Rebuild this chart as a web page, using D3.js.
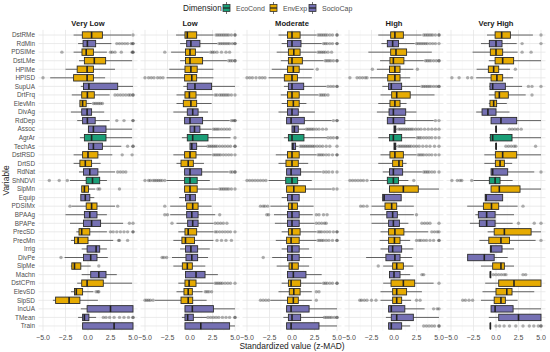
<!DOCTYPE html>
<html>
<head>
<meta charset="utf-8">
<script src="https://cdn.jsdelivr.net/npm/d3@7"></script>
<style>
  body { margin: 0; background: #fff; }
  svg { font-family: "Liberation Sans", Arial, sans-serif; }
</style>
</head>
<body>
<svg id="chart" width="550" height="352"></svg>
<script>
// variables, top to bottom
const variables = ["DstRMe","RdMin","PDSIMe","DstLMe","HPIMe","HPISD","SupUA","DrtFrq","ElevMn","DivAg",
  "RdDep","Assoc","AgrAr","TechAs","DstRSD","DrtSD","RdNat","ShNDVI","SlpMn","Equip",
  "PDSIMx","BPAAg","BPAPe","PrecSD","PrecMn","Irrig","DivPe","SlpMe","Machn","DstCPm",
  "ElevSD","SlpSD","IncUA","TMean","Train"];
const dimension = ["EnvExp","SocioCap","EnvExp","EnvExp","EnvExp","EnvExp","SocioCap","EnvExp","EnvExp","SocioCap",
  "SocioCap","SocioCap","EcoCond","SocioCap","EnvExp","EnvExp","SocioCap","EcoCond","EnvExp","SocioCap",
  "EnvExp","SocioCap","SocioCap","EnvExp","EnvExp","SocioCap","SocioCap","EnvExp","SocioCap","EnvExp",
  "EnvExp","EnvExp","SocioCap","SocioCap","SocioCap"];
const dimensions = ["EcoCond","EnvExp","SocioCap"];
const panels = ["Very Low","Low","Moderate","High","Very High"];
const xTicks = [-5, -2.5, 0, 2.5, 5];

// [lower whisker, q1, median, q3, upper whisker] per variable
const veryLow = [[-1.6,-0.63,0.4,1.6,4.8],[-1.1,-0.55,-0.07,0.85,2.6],[-1.6,-0.67,-0.2,0.6,2.1],[-1.0,-0.4,0.7,1.96,4.9],[-2.5,-1.2,-0.1,0.6,3.0],
  [-4.2,-1.6,-0.1,0.6,1.9],[-0.8,-0.5,0.1,3.3,5],[-1.8,-0.7,-0.07,0.7,2.4],[-0.9,-0.9,-0.6,-0.2,0.4],[-1.9,-0.7,-0.1,0.4,1.8],
  [-1.2,-0.6,-0.07,0.8,2.4],[0.05,0.05,0.6,2.0,4.9],[-0.9,-0.4,0.4,2.0,4.9],[0.05,0.05,0.6,1.6,3.7],[-1.6,-0.6,0,1.1,2.7],
  [-1.6,-0.9,-0.3,0.4,1.4],[-1.0,-0.5,0.2,1.1,3.0],[-2.0,-0.2,0.5,1.3,2.1],[-0.7,-0.7,-0.4,0.05,0.8],[-0.8,-0.8,-0.3,0.2,0.7],
  [-1.8,-0.2,0.4,1.0,3.0],[-2.5,-0.4,0.2,1.0,2.1],[-2.0,-0.5,0.4,1.4,3.9],[-1.3,-1.0,-0.7,0.2,2.1],[-1.9,-1.5,-1.1,0.0,2.8],
  [-0.7,-0.1,0.9,1.3,2.1],[-2.6,-0.5,0.3,1.0,2.2],[-1.9,-1.8,-1.5,-0.8,0.3],[-0.7,0.3,1.2,2.0,3.2],[-1.2,-0.7,-0.1,1.7,4.9],
  [-1.9,-1.5,-1.3,-0.6,0.6],[-3.9,-3.6,-2.1,-0.9,1.1],[-0.8,-0.1,2.5,5,5],[-1.1,-0.6,-0.4,0.1,0.9],[-0.6,-0.6,2.9,5,5]];
const veryLowOut = [[5],[3.2,3.5,3.8,4.1,4.4,4.8,5,5],[-2.9,2.5,2.7,3.0,3.7,4.9,5,5],[],[],
  [-5],[],[3.0,3.3,3.6,3.9,4.2,4.5,4.7,5,5],[0.6,0.8,1.0,1.2,1.4,1.6],[],
  [3.2,4.0,5,5],[],[],[4.4,5,5],[3.8,4.9],
  [],[3.3,3.6,3.9,4.2],[-4.3,-3.2,-2.3],[1.1,1.3,3.5],[],
  [-2.0,3.3],[],[4.6,5],[2.5,2.8,3.2,3.6,4.0,4.4,5,5],[3.4,3.5,4.4],
  [],[-3.0],[1.2],[],[],
  [0.9,1.1,1.2],[],[],[1.7,2.0,2.4,2.9,3.5,4.0,4.5,5,5],[]];

const low = [[-1.55,-0.56,-0.3,0.74,2.6],[-1.1,-0.37,0.1,1.1,3.0],[-2.1,-0.5,0,0.6,2.1],[-1.1,-0.5,0,1.4,4.1],[-2.3,-0.56,0.1,0.8,2.6],
  [-2.6,-0.6,0.2,0.74,2.6],[-0.74,-0.3,0.55,2.4,5],[-1.5,-0.56,-0.07,0.67,2.6],[-1.5,-0.74,0.1,0.74,2.4],[-1.85,-0.3,0.3,0.9,2.0],
  [-0.6,-0.6,0,1.4,4.4],[0,0,0.5,1.1,2.4],[-0.9,-0.3,0.3,2.0,4.5],[0,0,0.2,0.74,1.85],[-1.85,-0.6,0,0.67,2.4],
  [-1.5,-1.0,-0.2,0.37,1.55],[-0.6,-0.6,0,1.3,4.3],[-2.6,-0.6,0,0.8,2.2],[-0.6,-0.6,0,0.8,3.1],[-1.2,-0.5,0,0.6,0.6],
  [-2.2,-0.37,0.3,0.9,2.4],[-2.2,-0.37,0.2,0.9,2.8],[-1.5,-0.26,0.3,0.9,2.6],[-1.3,-0.56,-0.2,0.74,2.6],[-1.85,-0.9,-0.5,0.5,2.6],
  [-1.1,-0.5,0.1,0.85,2.2],[-2.0,-0.45,0.2,0.85,2.0],[-1.85,-0.85,-0.3,0.26,1.7],[-0.5,-0.5,0.67,1.67,3.1],[-1.3,-0.56,-0.1,0.67,2.6],
  [-1.5,-0.67,-0.2,0.26,1.4],[-3.9,-1.0,-0.2,0.3,1.85],[-0.56,-0.56,0.26,2.6,5],[-0.9,-0.56,-0.26,0.37,1.85],[-0.56,-0.56,1.2,4.4,5]];
const lowOut = [[2.9,3.1,3.3,3.5,3.7,3.9,4.1,4.3,4.6,5,5],[3.2,3.4,3.6,3.8,4.0,4.2,4.4,4.7,5,5],[-2.8,2.3,2.5,2.7,3.0,3.5,4.0,4.4],[4.3,4.5,4.7,5,5],[],
  [-5,-4.6,-4.3,-4.0,-3.6,-3.3,-3.0],[],[2.8,3.0,3.3,3.5,3.7,3.9,4.1,4.3,4.6,5],[],[],
  [4.6,4.8,5,5],[2.6,2.8,3.0,3.2,3.5,3.8,4.1,4.4],[5],[2.0,2.2,2.4,2.6,2.8,3.0,3.3,3.6,3.9,4.2,4.5,5,5],[2.6,2.8,3.0,3.2,3.4,3.7,4.0,4.3,4.6,5],
  [],[4.5,4.7,5,5],[-5,-4.6,-4.4,-4.1,-3.9,-3.7,-3.5,-3.3,-3.1,-2.8],[3.3,3.5,3.7,3.9,4.1,4.3,4.6,5],[],
  [-2.8],[-2.8,-2.5,3.3],[-2.0,2.8,3.1,3.4,3.7,4.1],[2.8,3.0,3.3,3.6,3.9,4.2,4.5,5],[3.0,3.5,4.0,4.6],
  [],[-3.1,-2.9,-2.6],[],[],[2.8,3.0,3.2,3.4,3.6,3.9,4.2,4.5,5],
  [1.7,1.9,2.1,2.4],[-5,-4.8,-4.6,-4.4,-4.1],[],[2.0,2.3,2.6,2.9,3.2,3.6,4.0,4.4,5,5],[]];

const moderate = [[-1.5,-0.5,0,0.9,2.7],[-1.15,-0.5,0,1.0,3.3],[-1.7,-0.4,0.2,0.9,2.7],[-1.25,-0.4,0,1.15,3.5],[-2.25,-0.5,0.15,0.8,2.4],
  [-2.6,-0.85,0,0.6,2.2],[-0.9,-0.4,0,1.3,3.8],[-1.25,-0.5,0,0.8,2.9],[-1.15,-0.5,0.15,0.8,1.6],[-1.5,-0.5,0,0.7,2.55],
  [-0.6,-0.6,-0.1,1.37,4.4],[0,0,0.26,0.7,1.45],[-0.9,-0.4,0,1.33,3.85],[0,0,0.1,0.4,0.7],[-1.8,-0.5,0,0.8,2.7],
  [-1.5,-0.67,0,0.7,1.8],[-0.6,-0.6,-0.1,0.96,3.3],[-2.6,-0.7,0,0.63,2.2],[-0.6,-0.6,0.2,1.5,4.4],[-1.15,-0.5,0,0.8,0.8],
  [-2.4,-0.4,0,0.6,2.4],[-2.0,-0.5,0,0.8,2.3],[-1.9,-0.5,0,0.8,2.5],[-1.15,-0.4,0,0.9,2.7],[-1.8,-0.6,-0.1,0.8,2.7],
  [-1.15,-0.5,0,0.8,1.9],[-2.2,-0.5,0,0.8,2.2],[-1.7,-0.33,0,0.7,1.9],[-0.5,-0.5,0.15,1.55,3.3],[-1.15,-0.4,-0.1,0.96,3.3],
  [-1.5,-0.3,0.2,0.9,2.2],[-2.4,-0.5,0.15,0.7,2.2],[-0.6,-0.6,-0.1,1.9,5],[-0.96,-0.4,0,0.96,3.5],[-0.6,-0.6,-0.1,3.0,5]];
const moderateOut = [[2.9,3.1,3.3,3.5,3.7,3.9,4.2,4.5,5,5],[3.5,3.7,3.9,4.2,4.5,5,5],[2.9,3.1,3.3,3.5,3.7,4.0,4.4],[3.7,3.9,4.1,4.3,4.6,5,5],[2.8],
  [-5,-4.7,-4.4,-4.0,-3.6,-3.3,-3.0],[4.0,4.3,4.6,5,5],[3.1,3.3,3.5,3.7,4.0],[],[],
  [4.6,5,5],[1.6,1.8,2.0,2.2,2.4,2.7,3.0,3.4,3.8],[4.0,4.3,4.6,5,5],[0.9,1.1,1.3,1.5,1.7,1.9,2.1,2.3,2.5,2.8,3.1,3.4,3.8,4.2,5],[2.9,3.1,3.3,3.5,3.8,4.1,4.5,5,5],
  [],[3.5,3.8,4.1,4.5,5],[-5,-4.7,-4.4,-4.1,-3.8,-3.5,-3.2,-2.9],[4.6,5],[],
  [-3.5,-3.2,-3.0,-2.7],[-2.8,-2.6,2.7,3.0,3.5,3.9],[2.7,3.0,3.3,3.6,3.8],[2.9,3.1,3.3,3.6,3.9,4.2,4.6,5,5],[2.9,3.1,3.3,3.5,3.8,4.1,4.5,5,5],
  [],[-3.2],[],[],[3.5,3.7,3.9,4.2,4.5,5,5],
  [2.7,3.0],[-3.5,-3.2,-2.9,-2.6,2.7],[],[3.6,3.8,4.0,4.2,4.4,4.7,5,5],[]];

const high = [[-1.75,-0.37,0.1,1.04,3.07],[-1.4,-0.74,-0.15,0.5,2.3],[-2.85,-0.37,0.22,1.4,4.2],[-1.55,-0.45,-0.07,1.1,3.3],[-1.9,-0.5,0.1,0.67,2.15],
  [-2.65,-0.7,0.1,0.67,1.8],[-1.3,-0.6,-0.3,0.85,2.9],[-1.5,-0.26,0.3,1.8,4.5],[-1.75,-0.45,0.1,0.67,1.4],[-1.9,-0.55,-0.07,1.3,2.5],
  [-0.74,-0.74,-0.07,1.2,4.4],[0,0,0.1,0.2,0.3],[-1.75,-0.5,-0.07,0.85,2.4],[0,0,0.1,0.2,0.3],[-1.5,-0.45,0.1,1.04,2.5],
  [-1.75,-0.15,0.55,0.96,1.4],[-1.25,-0.5,-0.07,0.96,3.1],[-2.65,-0.74,-0.07,0.5,1.6],[-0.5,-0.5,1.04,2.7,5],[-1.26,-1.26,-1.1,0.8,0.8],
  [-2.5,-1.0,-0.26,0.3,2.2],[-2.65,-0.8,-0.15,0.37,2.2],[-2.5,-0.6,-0.07,0.6,1.6],[-1.5,-0.6,0.1,1.1,3.8],[-1.6,-0.6,0.05,0.67,1.8],
  [-1.5,-0.6,-0.15,0.85,2.15],[-3.1,-0.9,0.1,0.67,2.0],[-1.2,-0.15,0.3,1.04,2.15],[-0.5,-0.5,0,0.67,1.8],[-1.2,-0.33,1.04,2.3,4.4],
  [-1.5,-0.15,0.3,1.4,3.1],[-1.5,-0.15,0.3,0.85,1.9],[-0.6,-0.6,-0.3,1.2,3.4],[-0.9,-0.3,0.3,2.15,5],[-0.6,-0.6,-0.3,0.85,1.8]];
const highOut = [[3.3,3.5,3.7,3.9,4.1,4.3,4.6,5,5],[2.5,2.7,2.9,3.1,3.3,3.5,3.7,4.0,4.3,4.6,5],[],[3.5,3.7,3.9,4.1,4.4,4.7,5,5],[-2.4,2.6],
  [-4.9,-4.1,-3.8,-3.5,-3.2,-3.0],[3.1,3.3,3.5,3.7,3.9,4.1,4.4,4.7,5,5],[],[],[],
  [4.6,5],[0.5,0.7,0.9,1.1,1.3,1.5,1.7,1.9,2.1,2.4,2.7,3.0,3.4,3.8,4.2,4.6,5],[2.6,2.8,3.0,3.3,3.6,3.9,4.2,4.6,5],[0.5,0.7,0.9,1.1,1.3,1.5,1.7,1.9,2.2,2.5,2.8,3.2,3.6,4.0,4.5,5],[2.7,2.9,3.1,3.3,3.6,3.9,4.2,4.6,5],
  [],[3.3,3.5,3.7,3.9,4.2,4.5,5],[-4.9,-4.6,-4.3,-4.0,-3.7,-3.4,-3.0,2.2],[],[],
  [-3.7,-3.4,-3.0],[2.5],[3.1,3.4,3.7,4.0,5],[4.2,4.5,4.8,5],[2.5,2.8,3.0,3.3,3.6,4.0,4.4,5,5],
  [],[],[-1.75],[3.1,3.3],[5],
  [],[-3.8,-3.6,-3.3,-3.0,-2.5,-2.0,2.5,2.9],[4.4,4.8,5],[],[3.3,3.6,3.9,4.2,4.5,5,5]];

const veryHigh = [[-1.0,-0.1,0.63,1.6,4.1],[-1.67,-0.74,0,0.67,2.3],[-2.6,-0.63,0,0.74,2.4],[-0.8,-0.1,0.74,1.96,5],[-2.15,-0.85,-0.26,0.3,1.55],
  [-2.2,-0.55,0.1,0.74,1.9],[-0.74,-0.67,-0.37,1.04,2.9],[-0.8,-0.1,0.37,1.37,3.3],[-0.8,-0.67,-0.26,0.07,1.2],[-2.2,-1.55,-0.9,0,1.5],
  [-0.55,-0.55,0.55,2.3,5],[0,0,0,0.05,0.05],[-0.74,-0.63,-0.37,1.78,5],[0,0,0,0.05,0.05],[-1.3,-0.07,0.74,2.3,5],
  [-1.3,-0.07,0.45,0.93,1.8],[-0.55,-0.55,-0.37,1.3,4.25],[-2.5,-0.74,-0.1,0.45,1.85],[-0.55,-0.55,0.37,2.67,5],[-1.2,-1.2,-1.1,0.74,0.74],
  [-3.2,-1.4,-0.5,0.3,2.4],[-2.3,-1.96,-1.04,-0.1,2.0],[-2.9,-1.85,-1.04,-0.1,1.85],[-0.93,-0.2,0.93,3.9,5],[-1.85,-0.8,0.55,1.5,4.4],
  [-0.63,-0.63,-0.55,0.67,2.0],[-3.15,-3.15,-1.3,-0.2,1.3],[-1.67,-0.37,0.55,0.93,2.0],[-0.63,-0.63,-0.63,-0.58,-0.55],[-1.2,0.3,2.0,5,5],
  [-1.5,0,1.2,1.78,4.25],[-1.67,-0.2,0.55,1.04,2.4],[-0.55,-0.55,-0.1,1.9,5],[-0.8,0.3,2.5,5,5],[-0.63,-0.63,-0.63,-0.6,-0.58]];
const veryHighOut = [[5],[2.9,5],[2.9,3.9],[],[2.15],
  [-4.9,-4.1,-3.15,-2.7],[3.6,4.0,5],[4.0],[],[],
  [],[1.5,1.8,2.1,2.4,2.8],[],[1.1,1.4,1.7,2.0,2.2,4.4],[],
  [],[5],[-4.9,-4.3,-4.0,-3.8,-2.7],[],[],
  [3.0],[],[2.5,4.25,5],[],[5],
  [],[],[],[-0.3,0,0.3,0.6,0.9,1.1,3.0,3.3],[],
  [],[-3.7,-3.4,-3.0,-2.6],[],[],[0,0.4,0.9,1.5,2.2,3.0,3.7,4.2,4.7,5,5]];

const panelStats = [veryLow, low, moderate, high, veryHigh];
const panelOut = [veryLowOut, lowOut, moderateOut, highOut, veryHighOut];

const colour = d3.scaleOrdinal().domain(dimensions).range(["#1b9e77", "#e6ab02", "#7570b3"]);

const svg = d3.select("#chart");
const plotTop = 29.9, plotBottom = 331.1;
const panelW = 99, panelGap = 3, left0 = 38.5;

const y = d3.scaleLinear().domain([0.4, variables.length + 0.6]).range([plotTop, plotBottom]);
const step = y(2) - y(1);
const boxH = step * 0.75;

panels.forEach((name, p) => {
  const x0 = left0 + p * (panelW + panelGap);
  const x = d3.scaleLinear().domain([-5.5, 5.5]).range([x0, x0 + panelW]);
  const g = svg.append("g");

  // minor grid
  g.selectAll(".minor").data([-3.75, -1.25, 1.25, 3.75]).enter().append("line")
    .attr("x1", d => x(d)).attr("x2", d => x(d)).attr("y1", plotTop).attr("y2", plotBottom)
    .attr("stroke", "#f3f3f3").attr("stroke-width", 0.5);
  // major grid
  g.selectAll(".vmajor").data(xTicks).enter().append("line")
    .attr("x1", d => x(d)).attr("x2", d => x(d)).attr("y1", plotTop).attr("y2", plotBottom)
    .attr("stroke", "#e6e6e6").attr("stroke-width", 0.8);
  g.selectAll(".hmajor").data(variables).enter().append("line")
    .attr("x1", x0).attr("x2", x0 + panelW)
    .attr("y1", (d, i) => y(i + 1)).attr("y2", (d, i) => y(i + 1))
    .attr("stroke", "#e6e6e6").attr("stroke-width", 0.8);

  // strip title
  svg.append("text").attr("x", x(0)).attr("y", 26)
    .attr("text-anchor", "middle").attr("font-size", 7.6).attr("font-weight", "bold")
    .attr("fill", "#1a1a1a").text(name);

  // x axis tick labels
  g.selectAll(".xt").data(xTicks).enter().append("text")
    .attr("x", d => x(d)).attr("y", 340)
    .attr("text-anchor", "middle").attr("font-size", 7).attr("fill", "#4d4d4d")
    .text(d => d3.format(".1f")(d));

  const stats = panelStats[p];
  const outs = panelOut[p];

  // outliers
  outs.forEach((vals, i) => {
    g.selectAll(null).data(vals).enter().append("circle")
      .attr("cx", d => x(d)).attr("cy", y(i + 1)).attr("r", 1.7)
      .attr("fill", "#222").attr("fill-opacity", 0.35);
  });

  const boxes = g.selectAll(".box").data(stats).enter().append("g");
  // whiskers
  boxes.append("line")
    .attr("x1", d => x(d[0])).attr("x2", d => x(d[1]))
    .attr("y1", (d, i) => y(i + 1)).attr("y2", (d, i) => y(i + 1))
    .attr("stroke", "#333").attr("stroke-width", 0.75);
  boxes.append("line")
    .attr("x1", d => x(d[3])).attr("x2", d => x(d[4]))
    .attr("y1", (d, i) => y(i + 1)).attr("y2", (d, i) => y(i + 1))
    .attr("stroke", "#333").attr("stroke-width", 0.75);
  boxes.append("rect")
    .attr("x", d => x(d[1])).attr("width", d => Math.max(0.3, x(d[3]) - x(d[1])))
    .attr("y", (d, i) => y(i + 1) - boxH / 2).attr("height", boxH)
    .attr("fill", (d, i) => colour(dimension[i]))
    .attr("stroke", "#2b2b2b").attr("stroke-width", 0.9);
  boxes.append("line")
    .attr("x1", d => x(d[2])).attr("x2", d => x(d[2]))
    .attr("y1", (d, i) => y(i + 1) - boxH / 2).attr("y2", (d, i) => y(i + 1) + boxH / 2)
    .attr("stroke", "#222").attr("stroke-width", 1.6);
});

// y axis labels
svg.selectAll(".yl").data(variables).enter().append("text")
  .attr("x", 35).attr("y", (d, i) => y(i + 1)).attr("dy", "0.35em")
  .attr("text-anchor", "end").attr("font-size", 6.4).attr("fill", "#4d4d4d")
  .text(d => d);

// axis titles
svg.append("text").attr("x", 292).attr("y", 349).attr("text-anchor", "middle")
  .attr("font-size", 8.4).attr("fill", "#1a1a1a").text("Standardized value (z-MAD)");
svg.append("text").attr("transform", "translate(9," + ((plotTop + plotBottom) / 2) + ") rotate(-90)")
  .attr("text-anchor", "middle").attr("font-size", 8.4).attr("fill", "#1a1a1a").text("Variable");

// legend
const lg = svg.append("g");
lg.append("text").attr("x", 183).attr("y", 11).attr("font-size", 8.2).attr("fill", "#1a1a1a").text("Dimension");
const keyX = [223, 270, 309];
dimensions.forEach((d, i) => {
  const kx = keyX[i];
  lg.append("line").attr("x1", kx + 3.5).attr("x2", kx + 3.5).attr("y1", 2).attr("y2", 14).attr("stroke", "#333").attr("stroke-width", 0.7);
  lg.append("rect").attr("x", kx).attr("y", 4.5).attr("width", 7).attr("height", 7)
    .attr("fill", colour(d)).attr("stroke", "#333").attr("stroke-width", 0.8);
  lg.append("line").attr("x1", kx).attr("x2", kx + 7).attr("y1", 8).attr("y2", 8).attr("stroke", "#222").attr("stroke-width", 1.2);
  lg.append("text").attr("x", kx + 13).attr("y", 10.8).attr("font-size", 7).attr("fill", "#4d4d4d").text(d);
});
</script>
</body>
</html>
